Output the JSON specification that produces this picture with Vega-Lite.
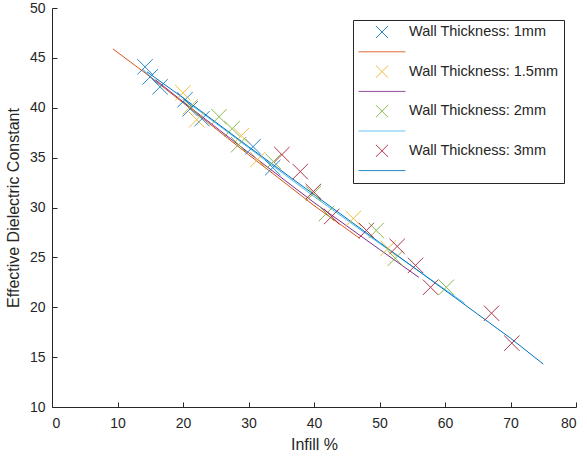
{
  "$schema": "https://vega.github.io/schema/vega-lite/v6.json",
  "width": 524,
  "height": 399,
  "autosize": {"type": "none"},
  "padding": {"left": 52, "top": 8, "right": 11, "bottom": 56},
  "background": "white",
  "config": {
    "view": {"stroke": null},
    "font": "Liberation Sans",
    "axis": {
      "grid": false,
      "domainColor": "#262626",
      "tickColor": "#262626",
      "labelColor": "#262626",
      "titleColor": "#262626",
      "labelFontSize": 14,
      "titleFontSize": 16,
      "titleFontWeight": "normal",
      "labelFont": "Liberation Sans",
      "titleFont": "Liberation Sans",
      "domainWidth": 1,
      "tickWidth": 1,
      "tickSize": -5
    }
  },
  "datasets": {
    "pts": [
      {"series": "Wall Thickness: 1mm", "infill": 14.2, "eps": 44.1},
      {"series": "Wall Thickness: 1mm", "infill": 15.0, "eps": 43.1},
      {"series": "Wall Thickness: 1mm", "infill": 16.5, "eps": 42.1},
      {"series": "Wall Thickness: 1mm", "infill": 20.3, "eps": 40.8},
      {"series": "Wall Thickness: 1mm", "infill": 21.1, "eps": 39.9},
      {"series": "Wall Thickness: 1mm", "infill": 22.9, "eps": 38.9},
      {"series": "Wall Thickness: 1mm", "infill": 30.7, "eps": 36.1},
      {"series": "Wall Thickness: 1mm", "infill": 33.7, "eps": 34.0},
      {"series": "Wall Thickness: 1.5mm", "infill": 20.0, "eps": 41.5},
      {"series": "Wall Thickness: 1.5mm", "infill": 21.1, "eps": 40.1},
      {"series": "Wall Thickness: 1.5mm", "infill": 22.1, "eps": 38.8},
      {"series": "Wall Thickness: 1.5mm", "infill": 28.9, "eps": 37.2},
      {"series": "Wall Thickness: 1.5mm", "infill": 31.4, "eps": 34.8},
      {"series": "Wall Thickness: 1.5mm", "infill": 46.0, "eps": 28.9},
      {"series": "Wall Thickness: 1.5mm", "infill": 51.3, "eps": 25.9},
      {"series": "Wall Thickness: 2mm", "infill": 25.5, "eps": 39.1},
      {"series": "Wall Thickness: 2mm", "infill": 27.5, "eps": 37.9},
      {"series": "Wall Thickness: 2mm", "infill": 28.5, "eps": 36.3},
      {"series": "Wall Thickness: 2mm", "infill": 33.8, "eps": 34.6},
      {"series": "Wall Thickness: 2mm", "infill": 39.9, "eps": 31.4},
      {"series": "Wall Thickness: 2mm", "infill": 41.9, "eps": 29.4},
      {"series": "Wall Thickness: 2mm", "infill": 49.5, "eps": 27.7},
      {"series": "Wall Thickness: 2mm", "infill": 52.4, "eps": 24.9},
      {"series": "Wall Thickness: 2mm", "infill": 60.2, "eps": 22.0},
      {"series": "Wall Thickness: 3mm", "infill": 35.1, "eps": 35.3},
      {"series": "Wall Thickness: 3mm", "infill": 37.9, "eps": 33.6},
      {"series": "Wall Thickness: 3mm", "infill": 39.9, "eps": 31.6},
      {"series": "Wall Thickness: 3mm", "infill": 42.7, "eps": 29.1},
      {"series": "Wall Thickness: 3mm", "infill": 48.0, "eps": 27.7},
      {"series": "Wall Thickness: 3mm", "infill": 52.7, "eps": 26.1},
      {"series": "Wall Thickness: 3mm", "infill": 55.5, "eps": 24.2},
      {"series": "Wall Thickness: 3mm", "infill": 57.8, "eps": 22.0},
      {"series": "Wall Thickness: 3mm", "infill": 67.1, "eps": 19.4},
      {"series": "Wall Thickness: 3mm", "infill": 70.2, "eps": 16.4}
    ],
    "fits": [
      {"series": "fit 1mm", "infill": 9.3, "eps": 45.9},
      {"series": "fit 1mm", "infill": 15, "eps": 43.1},
      {"series": "fit 1mm", "infill": 20, "eps": 40.5},
      {"series": "fit 1mm", "infill": 30, "eps": 35.3},
      {"series": "fit 1mm", "infill": 40, "eps": 30.2},
      {"series": "fit 1mm", "infill": 47, "eps": 26.9},
      {"series": "fit 1.5mm", "infill": 15.8, "eps": 42.8},
      {"series": "fit 1.5mm", "infill": 20, "eps": 40.6},
      {"series": "fit 1.5mm", "infill": 30, "eps": 35.5},
      {"series": "fit 1.5mm", "infill": 40, "eps": 30.5},
      {"series": "fit 1.5mm", "infill": 50, "eps": 25.8},
      {"series": "fit 1.5mm", "infill": 56, "eps": 23.0},
      {"series": "fit 2mm", "infill": 20, "eps": 40.9},
      {"series": "fit 2mm", "infill": 30, "eps": 36.0},
      {"series": "fit 2mm", "infill": 40, "eps": 31.1},
      {"series": "fit 2mm", "infill": 50, "eps": 26.4},
      {"series": "fit 2mm", "infill": 63, "eps": 20.4},
      {"series": "fit 3mm", "infill": 14.5, "eps": 43.6},
      {"series": "fit 3mm", "infill": 20, "eps": 41.0},
      {"series": "fit 3mm", "infill": 30, "eps": 36.1},
      {"series": "fit 3mm", "infill": 40, "eps": 31.3},
      {"series": "fit 3mm", "infill": 50, "eps": 26.5},
      {"series": "fit 3mm", "infill": 60, "eps": 21.7},
      {"series": "fit 3mm", "infill": 70, "eps": 16.9},
      {"series": "fit 3mm", "infill": 75, "eps": 14.3}
    ]
  },
  "encoding": {
    "x": {
      "field": "infill",
      "type": "quantitative",
      "scale": {"domain": [0, 80], "nice": false, "zero": false},
      "axis": {"title": "Infill %", "values": [0, 10, 20, 30, 40, 50, 60, 70, 80], "labelPadding": 14, "titlePadding": 6}
    },
    "y": {
      "field": "eps",
      "type": "quantitative",
      "scale": {"domain": [10, 50], "nice": false, "zero": false},
      "axis": {"title": "Effective Dielectric Constant", "values": [10, 15, 20, 25, 30, 35, 40, 45, 50], "labelPadding": 12, "titlePadding": 8}
    },
    "color": {
      "field": "series",
      "type": "nominal",
      "scale": {
        "domain": ["Wall Thickness: 1mm", "fit 1mm", "Wall Thickness: 1.5mm", "fit 1.5mm", "Wall Thickness: 2mm", "fit 2mm", "Wall Thickness: 3mm", "fit 3mm"],
        "range": ["#0072BD", "#D95319", "#EDB120", "#7E2F8E", "#77AC30", "#4DBEEE", "#A2142F", "#0072BD"]
      },
      "legend": {
        "orient": "none",
        "legendX": 301,
        "legendY": 12,
        "direction": "vertical",
        "title": null,
        "padding": 5,
        "strokeColor": "#262626",
        "fillColor": "white",
        "symbolSize": 2209,
        "symbolStrokeWidth": 1,
        "clipHeight": 14,
        "rowPadding": 4.8,
        "labelOffset": 3,
        "labelLimit": 300,
        "labelFontSize": 14.5,
        "labelColor": "#262626",
        "labelFont": "Liberation Sans",
        "labelExpr": "indexof(datum.label, 'fit') === 0 ? '' : datum.label + '\u00a0\u00a0\u00a0'"
      }
    }
  },
  "layer": [
    {
      "data": {"name": "fits"},
      "mark": {"type": "line", "strokeWidth": 1},
      "encoding": {}
    },
    {
      "data": {"name": "pts"},
      "mark": {"type": "point", "filled": false, "size": 3500, "strokeWidth": 1, "opacity": 0.85},
      "encoding": {
        "shape": {
          "field": "series",
          "type": "nominal",
          "scale": {
            "domain": ["Wall Thickness: 1mm", "fit 1mm", "Wall Thickness: 1.5mm", "fit 1.5mm", "Wall Thickness: 2mm", "fit 2mm", "Wall Thickness: 3mm", "fit 3mm"],
            "range": ["M-0.26,-0.26L0.26,0.26M-0.26,0.26L0.26,-0.26", "M-1,0L1,0", "M-0.26,-0.26L0.26,0.26M-0.26,0.26L0.26,-0.26", "M-1,0L1,0", "M-0.26,-0.26L0.26,0.26M-0.26,0.26L0.26,-0.26", "M-1,0L1,0", "M-0.26,-0.26L0.26,0.26M-0.26,0.26L0.26,-0.26", "M-1,0L1,0"]
          },
          "legend": {
            "orient": "none",
            "legendX": 301,
            "legendY": 12,
            "direction": "vertical",
            "title": null,
            "padding": 5,
            "strokeColor": "#262626",
            "fillColor": "white",
            "symbolSize": 2209,
            "symbolStrokeWidth": 1,
            "clipHeight": 14,
            "rowPadding": 4.8,
            "labelOffset": 3,
            "labelLimit": 300,
            "labelFontSize": 14.5,
            "labelColor": "#262626",
            "labelFont": "Liberation Sans",
            "labelExpr": "indexof(datum.label, 'fit') === 0 ? '' : datum.label + '\u00a0\u00a0\u00a0'"
          }
        }
      }
    }
  ]
}
